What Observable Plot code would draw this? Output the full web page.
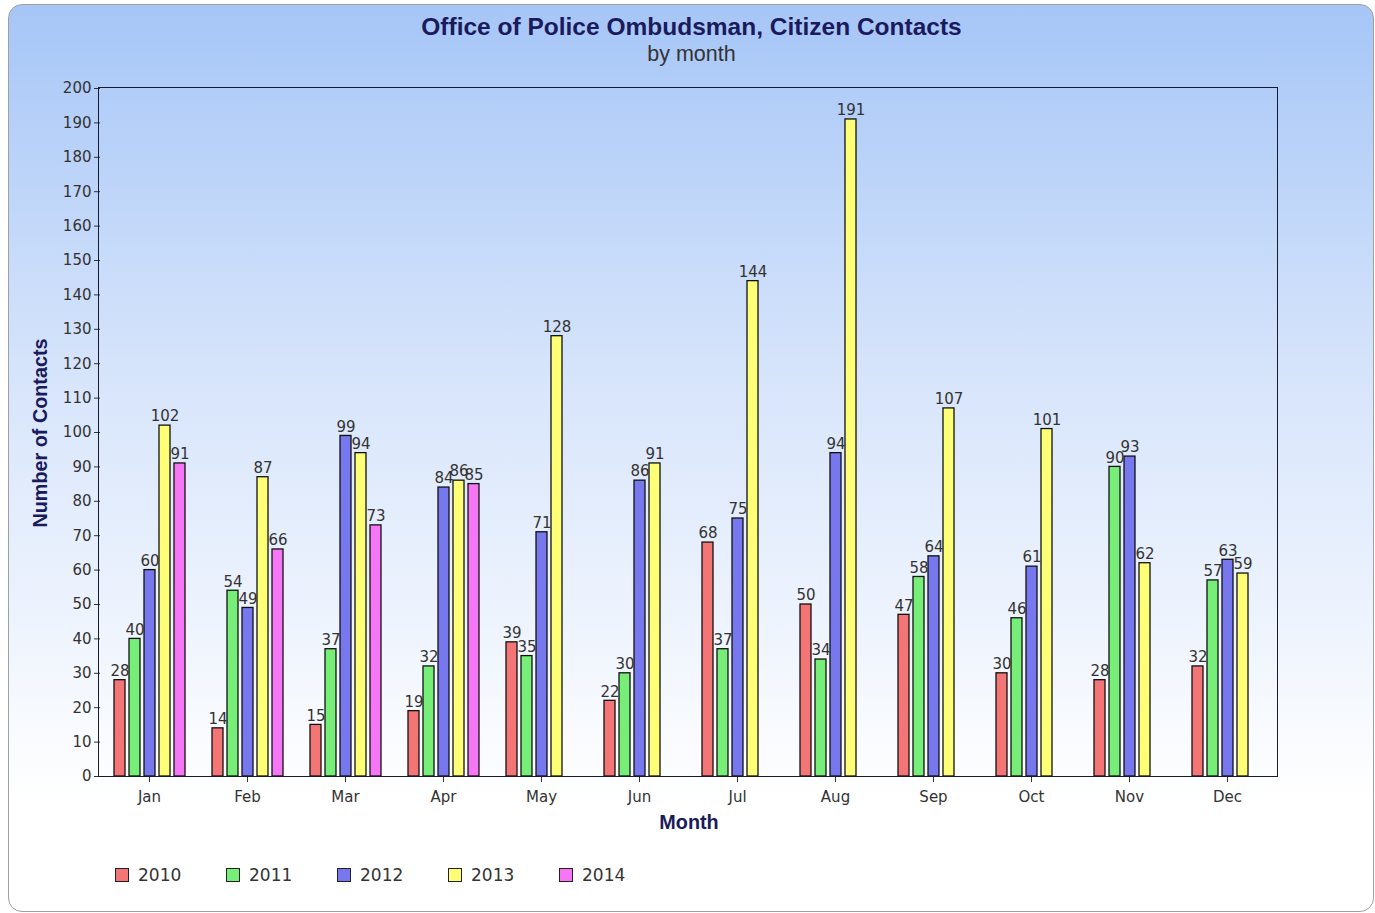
<!DOCTYPE html>
<html>
<head>
<meta charset="utf-8">
<script src="https://cdn.jsdelivr.net/npm/d3@7"></script>
<script src="https://cdn.jsdelivr.net/npm/@observablehq/plot@0.6"></script>
<style>
  html, body { margin: 0; padding: 0; background: #ffffff; }
  body { width: 1375px; height: 913px; position: relative; overflow: hidden; font-family: "DejaVu Sans", sans-serif; }
  #panel { position: absolute; left: 8px; top: 4px; width: 1366px; height: 908px; box-sizing: border-box;
    border: 1px solid #a0a0a0; border-radius: 14px;
    background: linear-gradient(to bottom, #a6c6f7 0%, #d6e4fb 40%, #ffffff 88%, #ffffff 100%); }
  #title { position: absolute; left: 0; width: 1383px; top: 27px; transform: translateY(-50%); text-align: center; font: bold 24.5px "Liberation Sans", Arial, sans-serif; color: #1a1a5c; }
  #subtitle { position: absolute; left: 0; width: 1383px; top: 54px; transform: translateY(-50%); text-align: center; font: 21.5px "Liberation Sans", Arial, sans-serif; color: #333; }
  #chart { position: absolute; left: 0; top: 70px; }
  #frame { position: absolute; left: 98px; top: 87px; width: 1180px; height: 690px; box-sizing: border-box; border: 1px solid #1a1a2e; pointer-events: none; }
  #ylabel { position: absolute; left: 40px; top: 433px; transform: translate(-50%, -50%) rotate(-90deg); white-space: nowrap; font: bold 19.8px "Liberation Sans", Arial, sans-serif; color: #1a1a5c; }
  #xlabel { position: absolute; left: 689px; top: 822px; transform: translate(-50%, -50%); font: bold 19.8px "Liberation Sans", Arial, sans-serif; color: #1a1a5c; }
  #legend { position: absolute; left: 115px; top: 865px; display: flex; }
  .item { width: 111px; display: flex; align-items: center; font: 17px "DejaVu Sans", sans-serif; color: #333; }
  .sw { width: 12px; height: 12px; border: 1px solid #222; margin-right: 9px; }
</style>
</head>
<body>
<div id="panel"></div>
<div id="title">Office of Police Ombudsman, Citizen Contacts</div>
<div id="subtitle">by month</div>
<div id="chart"></div>
<div id="frame"></div>
<div id="ylabel">Number of Contacts</div>
<div id="xlabel">Month</div>
<div id="legend"></div>
<script>
const months = ["Jan","Feb","Mar","Apr","May","Jun","Jul","Aug","Sep","Oct","Nov","Dec"];
const years = ["2010","2011","2012","2013","2014"];
const v2010 = [28, 14, 15, 19, 39, 22, 68, 50, 47, 30, 28, 32];
const v2011 = [40, 54, 37, 32, 35, 30, 37, 34, 58, 46, 90, 57];
const v2012 = [60, 49, 99, 84, 71, 86, 75, 94, 64, 61, 93, 63];
const v2013 = [102, 87, 94, 86, 128, 91, 144, 191, 107, 101, 62, 59];
const v2014 = [91, 66, 73, 85, null, null, null, null, null, null, null, null];
const yTicks = d3.range(0, 201, 10);
const colors = ["#f47575", "#77ee77", "#7777ee", "#ffff77", "#f577f5"];

const series = [v2010, v2011, v2012, v2013, v2014];
const data = [];
months.forEach((m, i) => {
  years.forEach((y, j) => {
    const v = series[j][i];
    if (v != null) data.push({month: m, year: y, value: v});
  });
});

const chart = Plot.plot({
  width: 1375,
  height: 770,
  marginLeft: 99,
  marginRight: 98,
  marginTop: 18,
  marginBottom: 64,
  style: {background: "transparent", fontFamily: "DejaVu Sans, sans-serif", fontSize: "15px", color: "#333", overflow: "visible"},
  fx: {domain: months, padding: 0, label: null, tickSize: 6, tickPadding: 9, axis: "bottom"},
  x: {domain: years, axis: null, paddingInner: 0.28, paddingOuter: 0.86},
  y: {domain: [0, 200], ticks: yTicks, tickSize: 6, tickPadding: 3, label: null},
  color: {domain: years, range: colors},
  facet: {data: data, x: "month"},
  marks: [
    Plot.barY(data, {x: "year", y: "value", fill: "year", stroke: "#111", strokeWidth: 1.3}),
    Plot.text(data, {x: "year", y: "value", text: d => String(d.value), dy: -9, fill: "#333", fontSize: 15})
  ]
});
document.getElementById("chart").appendChild(chart);

const legend = document.getElementById("legend");
years.forEach((y, j) => {
  const it = document.createElement("div");
  it.className = "item";
  const sw = document.createElement("div");
  sw.className = "sw";
  sw.style.background = colors[j];
  const t = document.createElement("span");
  t.textContent = y;
  it.appendChild(sw);
  it.appendChild(t);
  legend.appendChild(it);
});
</script>
</body>
</html>
